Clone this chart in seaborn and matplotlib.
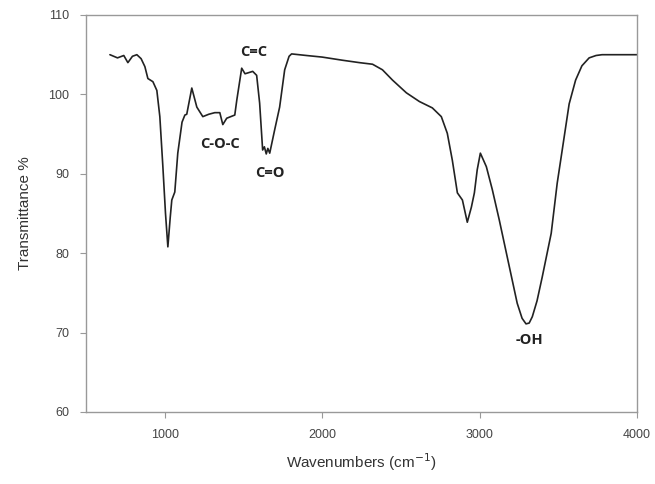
import matplotlib
matplotlib.use("Agg")
import matplotlib.pyplot as plt
import seaborn as sns
import pandas as pd

wavenumber = [652, 700, 740, 766, 795, 823, 850, 874, 893, 925, 950, 969, 988, 1005, 1020,
              1035, 1045, 1064, 1083, 1110, 1128, 1140, 1172, 1204, 1242, 1280, 1318, 1350,
              1369, 1394, 1445, 1458, 1489, 1510, 1527, 1559, 1584, 1603, 1622, 1633, 1645,
              1655, 1667, 1698, 1730, 1762, 1790, 1806, 1900, 2000, 2130, 2237, 2320, 2383,
              2447, 2535, 2618, 2700, 2757, 2795, 2827, 2859, 2891, 2922, 2948, 2967, 2985,
              3005, 3043, 3081, 3125, 3189, 3239, 3270, 3295, 3315, 3335, 3365, 3398, 3455,
              3493, 3525, 3569, 3610, 3650, 3696, 3740, 3778, 3900, 4000]
transmittance = [105.0, 104.6, 104.9, 104.0, 104.8, 105.0, 104.5, 103.5, 102.0, 101.6, 100.5,
                 97.2, 91.0, 85.0, 80.8, 84.5, 86.7, 87.7, 92.6, 96.5, 97.4, 97.5, 100.8, 98.4,
                 97.2, 97.5, 97.7, 97.7, 96.2, 97.0, 97.4, 99.3, 103.3, 102.6, 102.7, 102.9,
                 102.4, 98.9, 93.0, 93.4, 92.5, 93.2, 92.6, 95.5, 98.4, 103.1, 104.8, 105.1,
                 104.9, 104.7, 104.3, 104.0, 103.8, 103.1, 101.8, 100.2, 99.1, 98.3, 97.2,
                 95.1, 91.7, 87.6, 86.7, 83.9, 85.8, 87.6, 90.5, 92.6, 90.9, 88.0, 84.2,
                 78.3, 73.7, 71.8, 71.1, 71.2, 72.0, 74.0, 77.0, 82.5, 88.8, 93.0, 98.8,
                 101.8, 103.6, 104.6, 104.9, 105.0, 105.0, 105.0]

label_text = ["C=C", "C-O-C", "C=O", "-OH"]
label_x = [1565, 1350, 1667, 3316]
label_y = [105.4, 93.8, 90.1, 69.1]

xticks = [1000, 2000, 3000, 4000]
yticks = [60, 70, 80, 90, 100, 110]

sns.set_theme(style="ticks")
plt.rcParams["font.family"] = ["Liberation Sans", "DejaVu Sans"]

df = pd.DataFrame({"Wavenumber": wavenumber, "Transmittance": transmittance})

fig = plt.figure(figsize=(6.55, 4.84), dpi=100)
ax = fig.add_axes([86 / 655, 1 - 412 / 484, (637 - 86) / 655, (412 - 15) / 484])
sns.lineplot(data=df, x="Wavenumber", y="Transmittance", ax=ax, color="#222222",
             linewidth=1.2, sort=False)

for t, x, y in zip(label_text, label_x, label_y):
    ax.text(x, y, t, ha="center", va="center", fontsize=10.5, fontweight="bold",
            family=["Open Sans", "DejaVu Sans"], color="#222222")

ax.set_xlim(500, 4000)
ax.set_ylim(60, 110)
ax.set_xticks(xticks)
ax.set_yticks(yticks)
ax.set_xlabel("Wavenumbers (cm$^{-1}$)", fontsize=11, color="#333333", labelpad=8)
ax.set_ylabel("Transmittance %", fontsize=11, color="#333333", labelpad=12)
ax.tick_params(axis="both", labelsize=9, colors="#444444", length=4, width=0.8,
               color="#999999", pad=8)
for s in ax.spines.values():
    s.set_visible(True)
    s.set_color("#999999")
    s.set_linewidth(1.0)

fig.savefig("out.png", dpi=100)
